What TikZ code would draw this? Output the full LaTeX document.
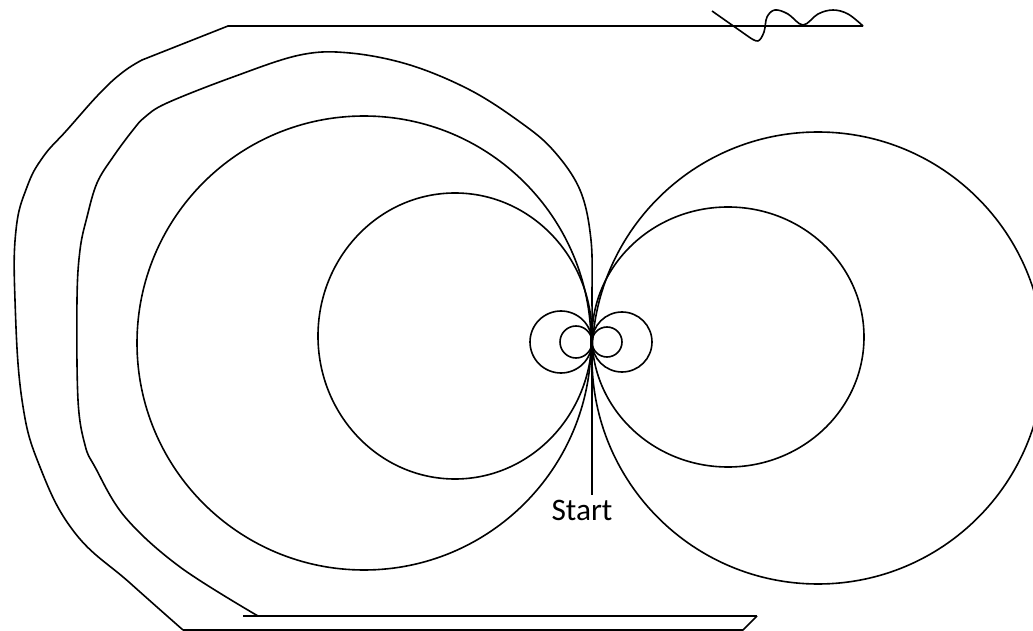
\documentclass[tikz,border=0pt]{standalone}
\usepackage{fontspec}
\setmainfont{Carlito}
\begin{document}
\begin{tikzpicture}[x=0.75pt,y=-0.75pt,line width=1.2pt,line join=round,font=\fontsize{23.5}{28}\selectfont]
  \useasboundingbox (0,0) rectangle (1033,631);
  \coordinate (P) at (592,342);
  \node[anchor=base,inner sep=3pt] (start) at (582,520) {Start};
  \draw (P) -- (P |- start.north);
  \draw (576,342) circle (16);
  \draw (607,342) circle (15);
  \draw (561,342) circle (31);
  \draw (622,342) circle (30);
  \draw (455,336) ellipse (137 and 143);
  \draw (728,337) ellipse (136 and 130);
  \draw (364,343) circle (227);
  \draw (818,358) circle (226);
  \draw plot[smooth,tension=0.6] coordinates {(P) (592,300) (591,240) (580,190) (553,150)
       (520,122) (470,90) (410,65) (350,53) (300,55) (233,77) (167,103) (145,117) (133,130)
       (113,157) (97,183) (87,217) (80,250) (77,300) (78,400) (85,445) (95,467) (125,517)
       (180,567) (258,616)};
  \draw[line width=2pt] (243,616) -- (757,616);
  \draw (757,616) -- (743,630) -- (183,630);
  \draw plot[smooth,tension=0.7] coordinates {(183,630) (130,583) (75,533) (40,467) (22,400)
       (15,300) (16,230) (27,187) (43,157) (67,130) (100,93) (123,72) (142,60)}
       -- (228,26) -- (863,26);
  \draw plot[smooth,tension=0.6] coordinates {(863,26) (848,14) (833,10) (818,14) (803,25)
       (788,14) (775,10) (767,17) (764,32) (758,41) (749,37)} -- (712,11);
\end{tikzpicture}
\end{document}
